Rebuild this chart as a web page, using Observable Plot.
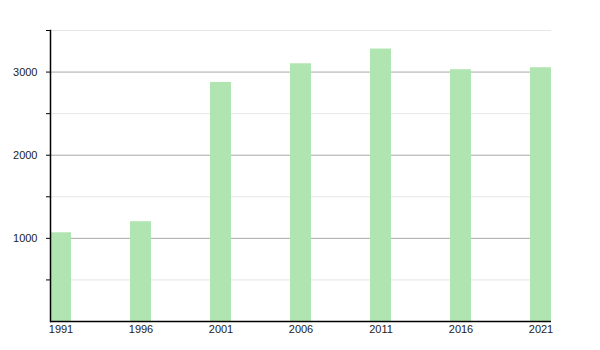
<!DOCTYPE html>
<html>
<head>
<meta charset="utf-8">
<script src="https://cdn.jsdelivr.net/npm/d3@7"></script>
<script src="https://cdn.jsdelivr.net/npm/@observablehq/plot@0.6"></script>
<style>
  body { margin: 0; background: #fff; }
  #chart { width: 600px; height: 350px; }
</style>
</head>
<body>
<div id="chart"></div>
<script>
const years = ["1991", "1996", "2001", "2006", "2011", "2016", "2021"];
const population = [1067, 1200, 2875, 3100, 3277, 3028, 3052];
const majorTicks = [1000, 2000, 3000];
const minorTicks = [500, 1500, 2500, 3500];
const yTicks = [500, 1000, 1500, 2000, 2500, 3000, 3500];

const data = years.map((y, i) => ({year: y, value: population[i]}));

const chart = Plot.plot({
  width: 600,
  height: 350,
  marginLeft: 50,
  marginRight: 49,
  marginTop: 30,
  marginBottom: 29,
  style: {fontFamily: "'Liberation Sans', Arial, sans-serif", fontSize: "11px", color: "#222", background: "#fff"},
  x: {type: "band", domain: years, paddingInner: 0.7375, paddingOuter: 0, align: 0.5, label: null},
  y: {domain: [0, 3500], label: null},
  marks: [
    Plot.ruleY(minorTicks, {stroke: "#e6e6e6", strokeWidth: 1}),
    Plot.ruleY(majorTicks, {stroke: "#a8a8a8", strokeWidth: 1}),
    Plot.barY(data, {x: "year", y: "value", fill: "#b0e4b0"}),
    Plot.axisY({ticks: yTicks, tickSize: 4, tickPadding: 9, stroke: "#000", tickFormat: d => d % 1000 === 0 ? String(d) : "", fontSize: 11}),
    Plot.axisX({tickSize: 0, tickPadding: 4, fontSize: 11}),
    Plot.ruleY([0], {stroke: "#000", strokeWidth: 1.5}),
    Plot.frame({anchor: "left", stroke: "#000", strokeWidth: 1.5})
  ]
});
document.getElementById("chart").appendChild(chart);
</script>
</body>
</html>
